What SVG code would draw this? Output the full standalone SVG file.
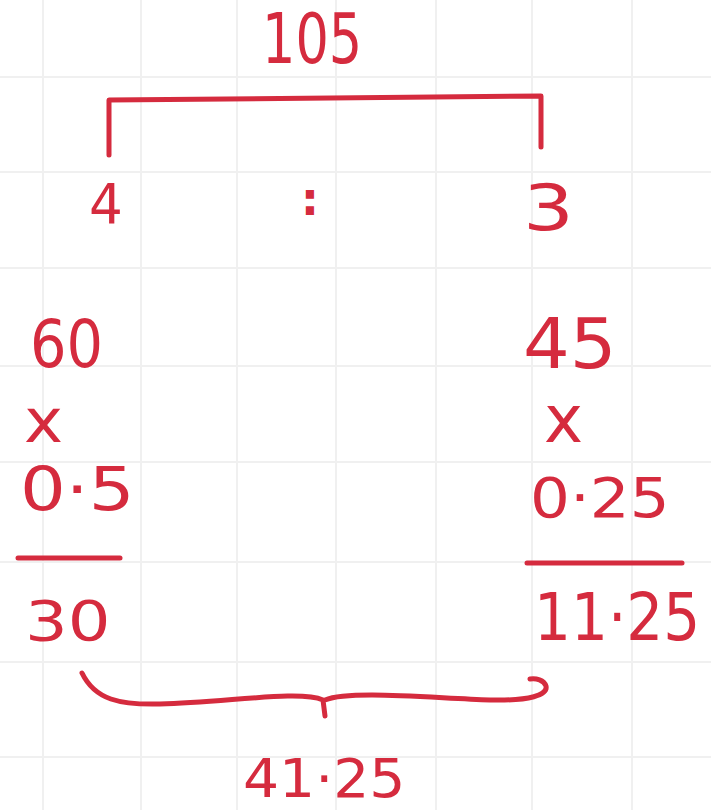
<svg xmlns="http://www.w3.org/2000/svg" width="711" height="810" viewBox="0 0 711 810">
<defs>
<style>
.grid line{stroke:#f0f0f0;stroke-width:2}
.ink{fill:#d52b3e;font-family:"DejaVu Sans","Liberation Sans",sans-serif}
.pen{stroke:#d52b3e;stroke-width:5;fill:none;stroke-linecap:round;stroke-linejoin:round}
</style>
</defs>
<rect x="0" y="0" width="711" height="810" fill="#ffffff"/>
<g class="grid">
<line x1="43" y1="0" x2="43" y2="810"/>
<line x1="141" y1="0" x2="141" y2="810"/>
<line x1="237" y1="0" x2="237" y2="810"/>
<line x1="336" y1="0" x2="336" y2="810"/>
<line x1="436" y1="0" x2="436" y2="810"/>
<line x1="532" y1="0" x2="532" y2="810"/>
<line x1="632" y1="0" x2="632" y2="810"/>
<line x1="0" y1="77" x2="711" y2="77"/>
<line x1="0" y1="172" x2="711" y2="172"/>
<line x1="0" y1="268" x2="711" y2="268"/>
<line x1="0" y1="366" x2="711" y2="366"/>
<line x1="0" y1="462" x2="711" y2="462"/>
<line x1="0" y1="562" x2="711" y2="562"/>
<line x1="0" y1="662" x2="711" y2="662"/>
<line x1="0" y1="757" x2="711" y2="757"/>
</g>
<g id="total">
<text class="ink" transform="translate(262,63) scale(0.75,1)" font-size="70">105</text>
</g>
<g id="ratio-left">
<text class="ink" transform="translate(89,223) scale(0.95,1)" font-size="56">4</text>
</g>
<g id="ratio-sep">
<text class="ink" x="310" y="215" font-size="46" font-weight="bold" text-anchor="middle">:</text>
</g>
<g id="ratio-right">
<text class="ink" transform="translate(523,230) scale(1.25,1)" font-size="64">3</text>
</g>
<g id="left-calc">
<text class="ink" transform="translate(30,367) scale(0.87,1)" font-size="66">60</text>
<text class="ink" transform="translate(24,442) scale(1.1,1)" font-size="60">x</text>
<text class="ink" transform="translate(20,510) scale(1.2,1)" font-size="60">0·5</text>
<line class="pen" x1="18" y1="558" x2="120" y2="558"/>
<text class="ink" transform="translate(25,640) scale(1.2,1)" font-size="56">30</text>
</g>
<g id="right-calc">
<text class="ink" transform="translate(523,368) scale(1.05,1)" font-size="70">45</text>
<text class="ink" transform="translate(544,442) scale(1.0,1)" font-size="66">x</text>
<text class="ink" transform="translate(530,517) scale(1.12,1)" font-size="56">0·25</text>
<line class="pen" x1="527" y1="563" x2="682" y2="563"/>
<text class="ink" transform="translate(534,640) scale(0.88,1)" font-size="66">11·25</text>
</g>
<g id="sum">
<text class="ink" transform="translate(243,797) scale(1.05,1)" font-size="54">41·25</text>
</g>
<g id="connectors">
<path class="pen" d="M109 155 L109 100 L541 96 L541 147"/>
<path class="pen" d="M82 673 C95 700 120 705 160 704 C230 702 300 690 323 700 L325 716 M325 700 C350 690 430 698 490 700 C530 701 548 695 546 686 C544 680 536 678 530 679"/>
</g>
</svg>
